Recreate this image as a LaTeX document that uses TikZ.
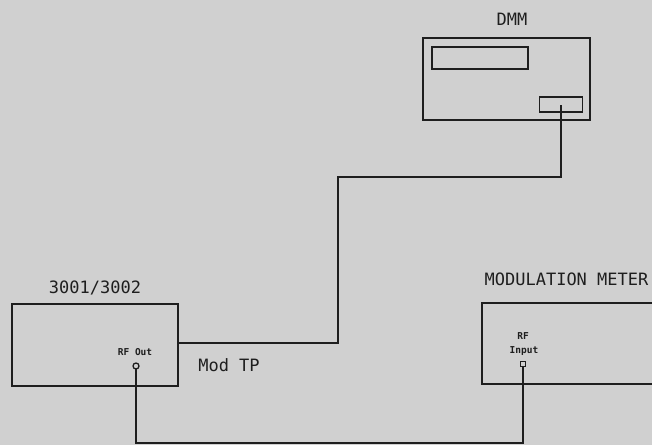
\documentclass[tikz,border=0pt]{standalone}
\usepackage{fontspec}
\setmonofont{DejaVu Sans Mono}
\definecolor{paper}{RGB}{208,208,208}
\definecolor{ink}{RGB}{30,30,30}
\begin{document}
\begin{tikzpicture}[x=1pt,y=-1pt,
  every node/.style={inner sep=0pt,outer sep=0pt},
  box/.style={draw=ink,line width=1.5pt,rectangle},
  lbl/.style={text=ink,font=\ttfamily\fontsize{17}{17}\selectfont},
  small/.style={text=ink,font=\ttfamily\bfseries\fontsize{9.5}{10}\selectfont},
  wire/.style={draw=ink,line width=1.6pt}]
\fill[paper] (0,0) rectangle (652,445);
\useasboundingbox (0,0) rectangle (652,445);
\clip (0,0) rectangle (652,445);
% generator
\node[box,minimum width=166pt,minimum height=82pt] (gen) at (95,345) {};
\node[lbl] (genl) at (95,287.5) {3001/3002};
\node[small] (rfoutl) at (135,352) {RF Out};
\node[draw=ink,line width=1.3pt,circle,minimum size=6pt] (rfout) at (136,366) {};
\node[lbl] (modtp) at (229,365.5) {Mod TP};
% DMM
\node[box,minimum width=167pt,minimum height=82pt] (dmm) at (506.5,79) {};
\node[lbl] (dmml) at (512,19.5) {DMM};
\node[box,minimum width=96pt,minimum height=22pt] (disp) at (480,58) {};
\node[box,minimum width=43pt,minimum height=15pt] (dmmin) at (561,104.5) {};
% modulation meter
\node[box,minimum width=190pt,minimum height=81pt] (mm) at (577,343.5) {};
\node[lbl] (mml) at (566.5,279) {MODULATION METER};
\node[small] (rfinl1) at (523,336) {RF};
\node[small] (rfinl2) at (524,351) {Input};
\node[draw=ink,line width=1.3pt,rectangle,minimum size=5pt] (rfin) at (523,364) {};
% wiring
\coordinate (tp) at (178,343);
\coordinate (k1) at (338,343);
\coordinate (k2) at (338,177);
\coordinate (k3) at (561,177);
\coordinate (bot) at (330,443);
\draw[wire] (tp) -- (k1) -- (k2) -- (k3) -- (dmmin.center);
\draw[wire] (rfout.south) |- (bot) -| (rfin.south);
\end{tikzpicture}
\end{document}
